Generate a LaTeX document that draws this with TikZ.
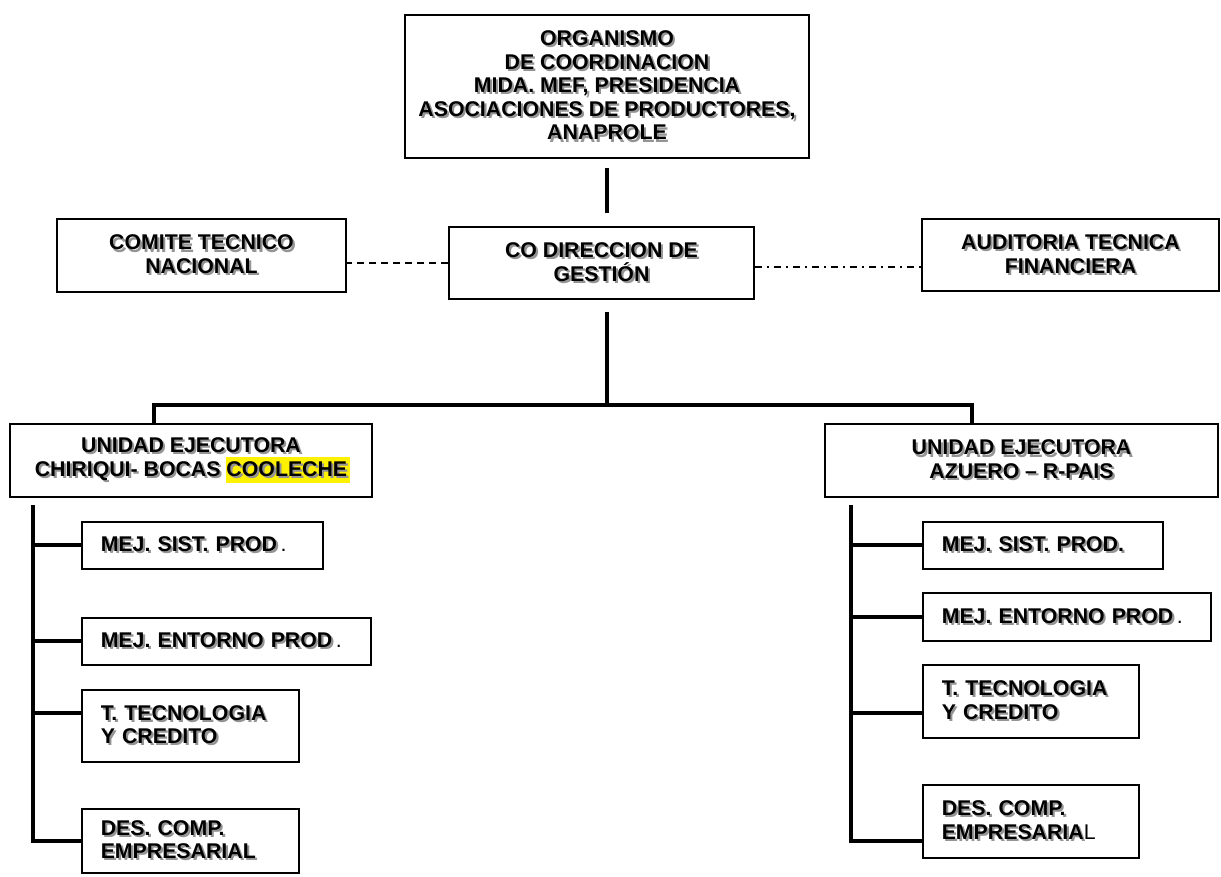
\documentclass[tikz,border=0pt]{standalone}
\usepackage{fontspec}
\setmainfont{Liberation Sans}
\usetikzlibrary{positioning}
\newcommand\shtxt[1]{\makebox[0pt][l]{\hspace{2.1pt}\raisebox{-2.1pt}{\color{black!42}#1}}#1}
\newcommand\hlbox[1]{\makebox[0pt][l]{\fboxsep=0pt\colorbox{yellow}{\rule[-7pt]{0pt}{26pt}\phantom{#1}\hspace{3pt}}}}
\begin{document}
\begin{tikzpicture}
  [x=1pt,y=-1pt,
   box/.style={draw,line width=1.5pt,inner sep=0pt,align=center,
     font=\bfseries\fontsize{21.3}{23.6}\selectfont},
   sub/.style={box,anchor=north west,align=left,inner xsep=19pt},
   conn/.style={line width=4pt},
   link/.style={line width=1.5pt}]
  \useasboundingbox (0,0) rectangle (1221,876);

  % top level
  \node[box,minimum width=404pt,minimum height=143pt] (org) at (607,86.5)
    {\shtxt{ORGANISMO}\\\shtxt{DE COORDINACION}\\\shtxt{MIDA. MEF, PRESIDENCIA}\\
     \shtxt{ASOCIACIONES DE PRODUCTORES,}\\\shtxt{ANAPROLE}};
  \node[box,minimum width=305pt,minimum height=72pt] (co) at (601.5,263)
    {\shtxt{CO DIRECCION DE}\\\shtxt{GESTIÓN}};
  \node[box,minimum width=289pt,minimum height=73pt] (comite) at (201.5,255.5)
    {\shtxt{COMITE TECNICO}\\\shtxt{NACIONAL}};
  \node[box,minimum width=297pt,minimum height=72pt] (aud) at (1070.5,255)
    {\shtxt{AUDITORIA TECNICA}\\\shtxt{FINANCIERA}};

  % executing units
  \node[box,minimum width=362pt,minimum height=73pt] (ueL) at (191,460.5)
    {\shtxt{UNIDAD EJECUTORA}\\\shtxt{CHIRIQUI- BOCAS }\hlbox{COOLECHE}\shtxt{COOLECHE}};
  \node[box,minimum width=393pt,minimum height=73pt] (ueR) at (1021.5,460.5)
    {\shtxt{UNIDAD EJECUTORA}\\\shtxt{AZUERO – R-PAIS}};

  % components, left
  \node[sub,text width=203pt,minimum height=47pt] (mL1) at (81,521)
    {\shtxt{MEJ. SIST. PROD}\,{\mdseries .}};
  \node[sub,text width=251pt,minimum height=47pt] (mL2) at (81,617)
    {\shtxt{MEJ. ENTORNO PROD}\,{\mdseries .}};
  \node[sub,text width=179pt,minimum height=72pt] (mL3) at (81,689)
    {\shtxt{T. TECNOLOGIA}\\\shtxt{Y CREDITO}};
  \node[sub,text width=179pt,minimum height=64pt] (mL4) at (81,808)
    {\shtxt{DES. COMP.}\\\shtxt{EMPRESARIAL}};

  % components, right
  \node[sub,text width=202pt,minimum height=47pt] (mR1) at (922,521)
    {\shtxt{MEJ. SIST. PROD.}};
  \node[sub,text width=250pt,minimum height=48pt] (mR2) at (922,592)
    {\shtxt{MEJ. ENTORNO PROD}\,{\mdseries .}};
  \node[sub,text width=178pt,minimum height=73pt] (mR3) at (922,664)
    {\shtxt{T. TECNOLOGIA}\\\shtxt{Y CREDITO}};
  \node[sub,text width=178pt,minimum height=73pt] (mR4) at (922,784)
    {\shtxt{DES. COMP.}\\\shtxt{EMPRESARIA}{\mdseries L}};

  \coordinate (bus) at (607,405);
  \coordinate (dL) at (154,405);
  \coordinate (dR) at (972,405);
  \coordinate (sL) at (33,505);
  \coordinate (sR) at (851,505);

  \draw[conn] ([yshift=-9pt]org.south) -- ([yshift=13pt]co.north -| org.south);
  \draw[conn] ([yshift=-12pt]co.south -| bus) -- (bus);
  \draw[conn] (ueL.north -| dL) -- (dL) -- (dR) -- (ueR.north -| dR);
  \draw[link,dash pattern=on 7pt off 5pt] (co.west) -- (co.west -| comite.east);
  \draw[link,dash pattern=on 7pt off 5pt on 2pt off 5pt] ([yshift=-4pt]co.east) -- ([yshift=-4pt]co.east -| aud.west);

  \draw[conn] (sL) |- (mL4.west);
  \foreach \b/\dy in {mL1/0pt,mL2/0pt,mL3/13pt}
    \draw[conn] ([yshift=\dy]\b.west) -- ([yshift=\dy]\b.west -| sL);
  \draw[conn] (sR) |- ([yshift=-19.5pt]mR4.west);
  \foreach \b/\dy in {mR1/0pt,mR2/0pt,mR3/-11.5pt}
    \draw[conn] ([yshift=\dy]\b.west) -- ([yshift=\dy]\b.west -| sR);

\end{tikzpicture}
\end{document}
